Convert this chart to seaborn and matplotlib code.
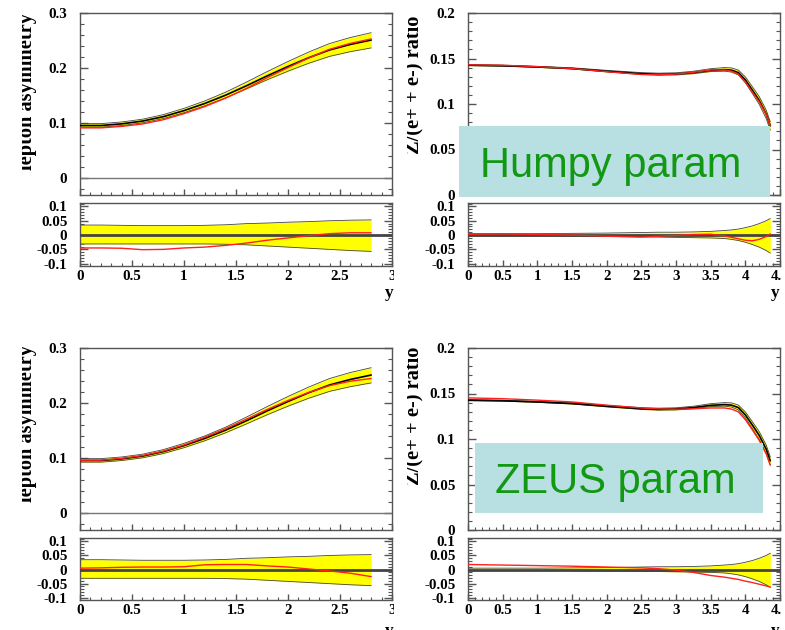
import numpy as np
import pandas as pd
import seaborn as sns
import matplotlib
matplotlib.use("Agg")
import matplotlib.pyplot as plt
from matplotlib.patches import Rectangle
from matplotlib.transforms import Bbox, TransformedBbox
from matplotlib.ticker import MultipleLocator, FixedLocator, FuncFormatter

# ---------------- data ----------------
# lepton asymmetry (left column), x = y (rapidity)
x_lep = [0.0, 0.2, 0.4, 0.6, 0.8, 1.0, 1.2, 1.4, 1.6, 1.8, 2.0, 2.2, 2.4, 2.6, 2.8]
lep_central = [0.096, 0.096, 0.099, 0.104, 0.112, 0.123, 0.136, 0.151, 0.168, 0.186, 0.203, 0.219, 0.233, 0.243, 0.251]
lep_band_hi = [0.0994, 0.0994, 0.1024, 0.1074, 0.1157, 0.1271, 0.1406, 0.1564, 0.1747, 0.1938, 0.2121, 0.2293, 0.2447, 0.2556, 0.2643]
lep_band_lo = [0.0930, 0.0930, 0.0959, 0.1008, 0.1085, 0.1192, 0.1318, 0.1462, 0.1623, 0.1789, 0.1945, 0.2089, 0.2214, 0.2299, 0.2367]
lep_red_humpy = [0.0917, 0.0917, 0.0944, 0.0987, 0.1064, 0.1175, 0.1303, 0.1456, 0.1633, 0.1827, 0.2010, 0.2186, 0.2342, 0.2449, 0.2530]
lep_red_zeus = [0.0965, 0.0966, 0.0998, 0.1049, 0.1130, 0.1242, 0.1383, 0.1537, 0.1710, 0.1884, 0.2048, 0.2194, 0.2318, 0.2398, 0.2447]
# ratio panels (left)
lep_rat_hi = [0.035, 0.035, 0.034, 0.033, 0.033, 0.033, 0.034, 0.036, 0.040, 0.042, 0.045, 0.047, 0.050, 0.052, 0.053]
lep_rat_lo = [-0.031, -0.031, -0.031, -0.031, -0.031, -0.031, -0.031, -0.032, -0.034, -0.038, -0.042, -0.046, -0.050, -0.054, -0.057]
lep_rat_red_humpy = [-0.045, -0.045, -0.046, -0.051, -0.050, -0.045, -0.042, -0.036, -0.028, -0.018, -0.010, -0.002, 0.005, 0.008, 0.008]
lep_rat_red_zeus = [0.005, 0.006, 0.008, 0.009, 0.009, 0.010, 0.017, 0.018, 0.018, 0.013, 0.009, 0.002, -0.005, -0.013, -0.025]

# Z/(e+ + e-) ratio (right column)
x_z = [0.0, 0.5, 1.0, 1.5, 2.0, 2.5, 2.75, 3.0, 3.25, 3.5, 3.7, 3.8, 3.9, 4.0, 4.1, 4.2, 4.3, 4.36]
z_central = [0.1426, 0.1420, 0.1407, 0.1390, 0.1360, 0.1333, 0.1326, 0.1330, 0.1345, 0.1370, 0.1378, 0.1372, 0.1345, 0.1265, 0.1155, 0.1040, 0.0890, 0.0760]
z_band_hi = [0.1433, 0.1427, 0.1414, 0.1398, 0.1370, 0.1345, 0.1339, 0.1343, 0.1360, 0.1388, 0.1400, 0.1397, 0.1373, 0.1298, 0.1192, 0.1082, 0.0935, 0.0804]
z_band_lo = [0.1422, 0.1416, 0.1403, 0.1384, 0.1353, 0.1325, 0.1317, 0.1319, 0.1333, 0.1356, 0.1361, 0.1351, 0.1319, 0.1233, 0.1117, 0.0996, 0.0842, 0.0712]
z_red_humpy = [0.1430, 0.1426, 0.1410, 0.1390, 0.1355, 0.1324, 0.1321, 0.1329, 0.1348, 0.1374, 0.1374, 0.1361, 0.1328, 0.1242, 0.1132, 0.1024, 0.0886, 0.0763]
z_red_zeus = [0.1452, 0.1443, 0.1427, 0.1407, 0.1372, 0.1341, 0.1330, 0.1327, 0.1332, 0.1341, 0.1341, 0.1329, 0.1298, 0.1213, 0.1102, 0.0986, 0.0838, 0.0713]
z_rat_hi = [0.005, 0.005, 0.005, 0.006, 0.007, 0.009, 0.010, 0.010, 0.011, 0.013, 0.016, 0.018, 0.021, 0.026, 0.032, 0.040, 0.050, 0.058]
z_rat_lo = [-0.003, -0.003, -0.003, -0.004, -0.005, -0.006, -0.007, -0.008, -0.009, -0.010, -0.012, -0.015, -0.019, -0.025, -0.033, -0.042, -0.054, -0.063]
z_rat_red_humpy = [0.003, 0.004, 0.002, 0.000, -0.004, -0.007, -0.004, -0.001, 0.002, 0.003, -0.003, -0.008, -0.013, -0.018, -0.020, -0.015, -0.005, 0.004]
z_rat_red_zeus = [0.018, 0.016, 0.014, 0.012, 0.009, 0.006, 0.003, -0.002, -0.010, -0.021, -0.027, -0.031, -0.035, -0.041, -0.046, -0.052, -0.058, -0.062]

lep_ylabel = "lepton asymmetry"
z_ylabel = "Z/(e+ + e-) ratio"
box_labels = ["Humpy param", "ZEUS param"]

# ---------------- style ----------------
sns.set_theme(style="white")
plt.rcParams["font.family"] = ["Liberation Serif", "DejaVu Serif"]
plt.rcParams["font.weight"] = "bold"

W, H = 785, 630
fig = plt.figure(figsize=(W / 100, H / 100), dpi=100)
fig.patch.set_facecolor("white")

SP = "#555555"
YEL = "#ffff00"
RED = "#ff2020"
fmt = FuncFormatter(lambda v, p: f"{v:g}".replace("\u2212", "-"))


def px_axes(x0, y0, x1, y1):
    return fig.add_axes([x0 / W, 1 - y1 / H, (x1 - x0) / W, (y1 - y0) / H])


def style(ax, xmax, ylim, ymaj, ymin_step, xlabels):
    ax.set_xlim(0, xmax)
    ax.set_ylim(*ylim)
    ax.xaxis.set_major_locator(MultipleLocator(0.5))
    ax.xaxis.set_minor_locator(MultipleLocator(0.1))
    ax.yaxis.set_major_locator(FixedLocator(ymaj))
    ax.yaxis.set_minor_locator(MultipleLocator(ymin_step))
    ax.xaxis.set_major_formatter(fmt)
    ax.yaxis.set_major_formatter(fmt)
    for s in ax.spines.values():
        s.set_color(SP)
        s.set_linewidth(1.0)
    ax.tick_params(axis="y", which="major", direction="in", length=6, width=1, color=SP,
                   left=True, right=True, labelsize=10.8, pad=9, labelcolor="black")
    ax.tick_params(axis="y", which="minor", direction="in", length=3, width=0.8, color=SP,
                   left=True, right=True)
    ax.tick_params(axis="x", which="major", direction="in", length=4, width=1, color=SP,
                   bottom=True, top=False, labelbottom=xlabels, labelsize=10.8, pad=3,
                   labelcolor="black")
    ax.tick_params(axis="x", which="minor", direction="in", length=2.2, width=0.8, color=SP,
                   bottom=True, top=False)
    ax.set_facecolor("white")
    ax.grid(False)
    ax.set_xlabel("")
    ax.set_ylabel("")


def draw(ax, x, c, hi, lo, red, ratio):
    df = pd.DataFrame({"x": x, "c": c, "hi": hi, "lo": lo, "red": red})
    ax.fill_between(df["x"], df["lo"], df["hi"], color=YEL, lw=0, zorder=2)
    sns.lineplot(data=df, x="x", y="hi", ax=ax, color="#444444", lw=0.6, estimator=None, sort=False, zorder=2.5)
    sns.lineplot(data=df, x="x", y="lo", ax=ax, color="#444444", lw=0.6, estimator=None, sort=False, zorder=2.5)
    if ratio:
        ax.axhline(0, color="#444444", lw=2.0, zorder=3)
    else:
        sns.lineplot(data=df, x="x", y="c", ax=ax, color="black", lw=1.2, estimator=None, sort=False, zorder=3)
    sns.lineplot(data=df, x="x", y="red", ax=ax, color=RED, lw=1.0, estimator=None, sort=False, zorder=4)


RAT_YLIM = (-0.108, 0.112)
RAT_MAJ = [-0.1, -0.05, 0, 0.05, 0.1]
rows = [
    (13, 195, 203, 266, lep_red_humpy, lep_rat_red_humpy, z_red_humpy, z_rat_red_humpy),
    (348, 530, 538, 600, lep_red_zeus, lep_rat_red_zeus, z_red_zeus, z_rat_red_zeus),
]
for (mt, mb, rt, rb, lred, lrred, zred, zrred) in rows:
    # left column
    axm = px_axes(80, mt, 392, mb)
    draw(axm, x_lep, lep_central, lep_band_hi, lep_band_lo, lred, False)
    axm.axhline(0, color="#777777", lw=1.0, zorder=1.5)
    style(axm, 3.0, (-0.03, 0.3), [0, 0.1, 0.2, 0.3], 0.02, False)
    axr = px_axes(80, rt, 392, rb)
    draw(axr, x_lep, [0] * len(x_lep), lep_rat_hi, lep_rat_lo, lrred, True)
    style(axr, 3.0, RAT_YLIM, RAT_MAJ, 0.01, True)
    # right column
    axm2 = px_axes(468, mt, 780, mb)
    draw(axm2, x_z, z_central, z_band_hi, z_band_lo, zred, False)
    style(axm2, 4.5, (0, 0.2), [0, 0.05, 0.1, 0.15, 0.2], 0.01, False)
    axr2 = px_axes(468, rt, 780, rb)
    draw(axr2, x_z, [0] * len(x_z), z_rat_hi, z_rat_lo, zrred, True)
    style(axr2, 4.5, RAT_YLIM, RAT_MAJ, 0.01, True)

# y-axis titles (partly clipped like the original canvas)
def ytitle(text, xr, yc, clip_x):
    t = fig.text(xr / W, 1 - yc / H, text, rotation=90, ha="right", va="center",
                 fontsize=14.7, fontweight="bold", color="black")
    t.set_clip_box(TransformedBbox(Bbox([[clip_x / W, 0], [1, 1]]), fig.transFigure))
    t.set_clip_on(True)

ytitle(lep_ylabel, 37, 91.5, 22)
ytitle(lep_ylabel, 37, 424, 22)
ytitle(z_ylabel, 423, 85, 407)
ytitle(z_ylabel, 423, 416, 407)

# x-axis titles
for (xx, yy) in [(389, 293), (775, 293), (389, 631), (775, 631)]:
    fig.text(xx / W, 1 - yy / H, "y", ha="center", va="center", fontsize=12.5,
             fontweight="bold", color="black")

# white cover strips (canvas edges of the pasted pictures)
for (x0, y0, x1, y1) in [(393.5, 268, 400, 289), (393.5, 603, 400, 624),
                         (781, 268, 785, 287), (781, 603, 785, 622)]:
    fig.add_artist(Rectangle((x0 / W, 1 - y1 / H), (x1 - x0) / W, (y1 - y0) / H,
                             transform=fig.transFigure, color="white", lw=0, zorder=5))

# annotation boxes
boxes = [((459, 126, 770, 197), (611, 177)), ((475, 443, 763, 513), (615.5, 493))]
for label, ((x0, y0, x1, y1), (tx, ty)) in zip(box_labels, boxes):
    fig.add_artist(Rectangle((x0 / W, 1 - y1 / H), (x1 - x0) / W, (y1 - y0) / H,
                             transform=fig.transFigure, color="#b8dfe2", lw=0, zorder=10))
    fig.text(tx / W, 1 - ty / H, label, ha="center", va="baseline", fontsize=30,
             fontweight="normal", family=["Liberation Sans", "DejaVu Sans"],
             color="#139813", zorder=11)

fig.savefig("out.png", dpi=100)
